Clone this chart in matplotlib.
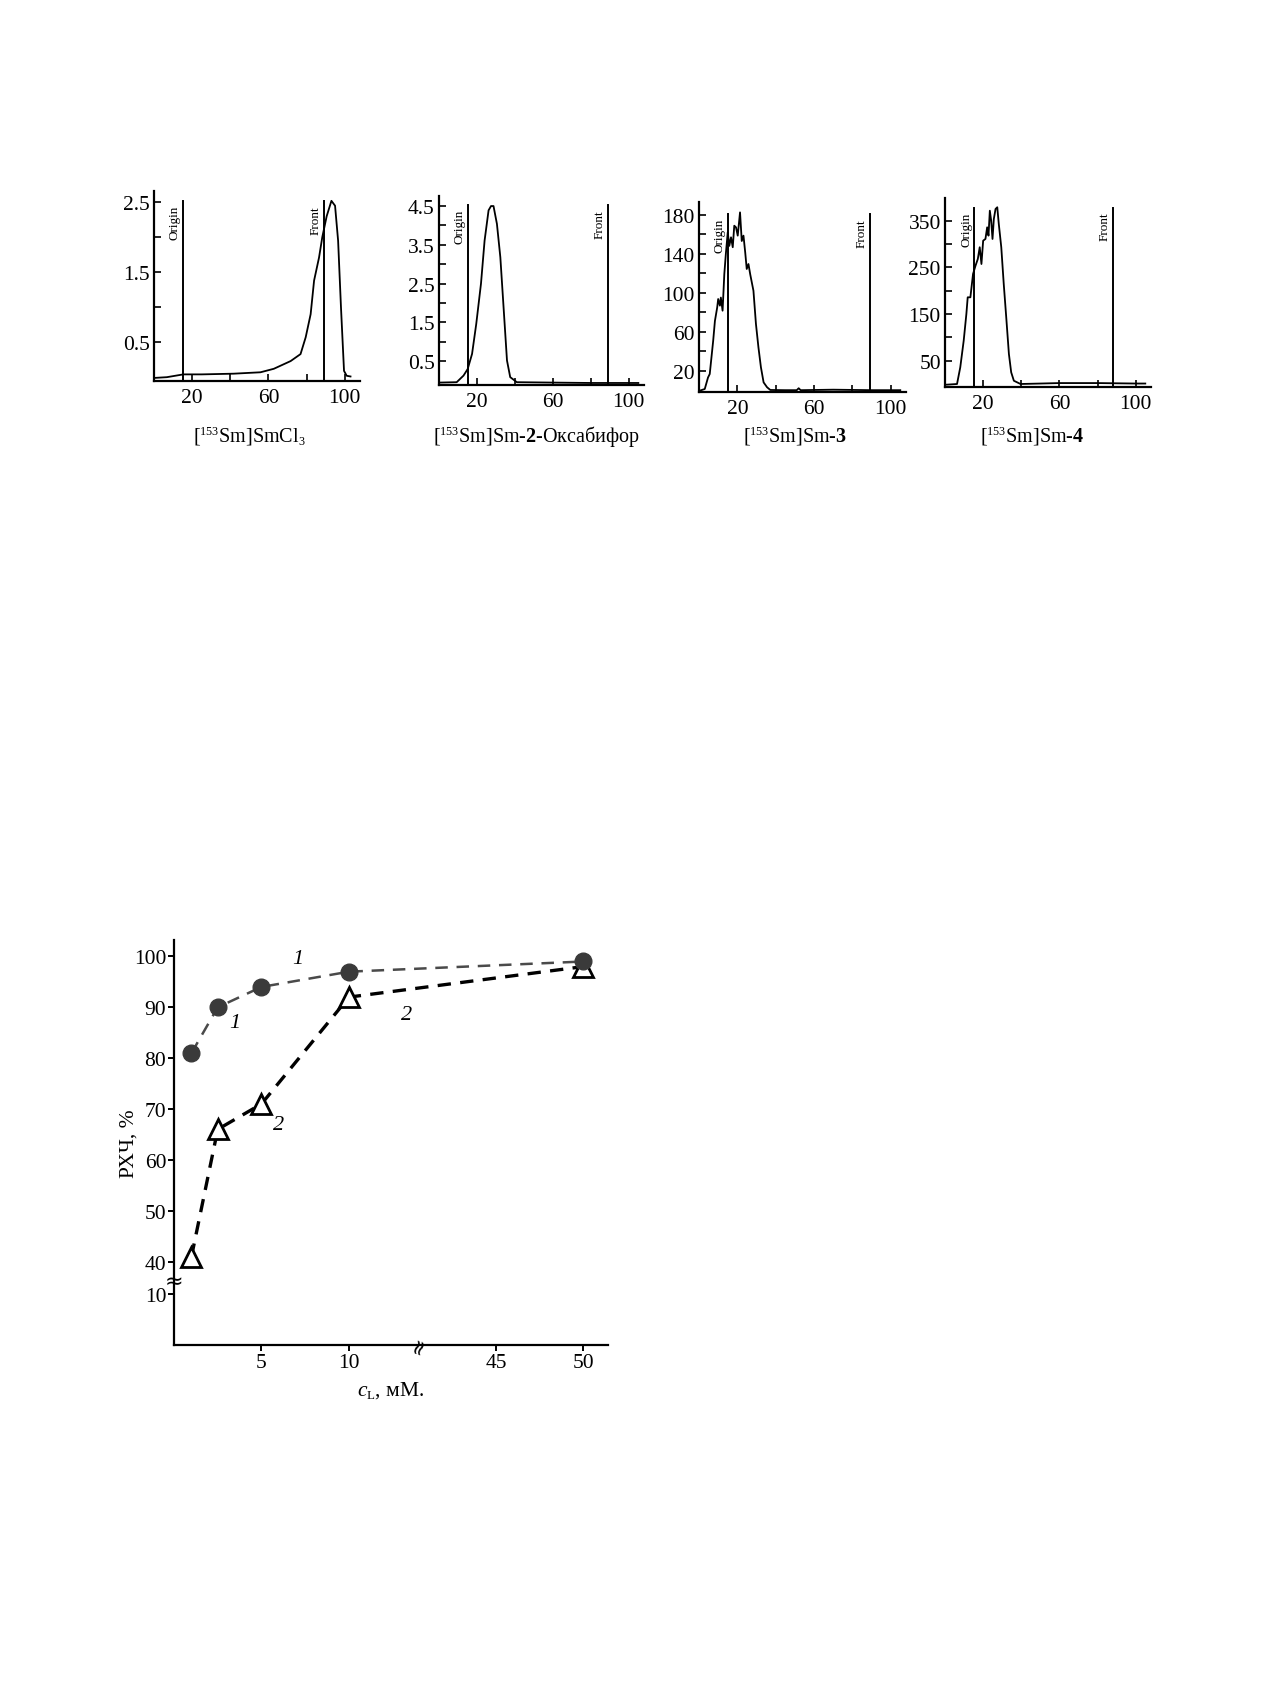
import numpy as np
import matplotlib
matplotlib.use('Agg')
import matplotlib.pyplot as plt
import matplotlib.transforms as mtransforms
import matplotlib._mathtext as _mt

# smaller super/subscripts, closer to the typeset original
_mt.SHRINK_FACTOR = 0.6

plt.rcParams['font.family'] = ['Liberation Serif', 'DejaVu Serif']
plt.rcParams['mathtext.fontset'] = 'custom'
plt.rcParams['mathtext.rm'] = 'Liberation Serif'
plt.rcParams['mathtext.it'] = 'Liberation Serif:italic'
plt.rcParams['mathtext.bf'] = 'Liberation Serif:bold'

# ---- radiochromatograms ----
x1 = [0.5, 6.7, 15.4, 25, 41.7, 55.8, 62.8, 71.6, 76.8, 79.5, 82.1, 83.9, 86.5,
      88.2, 90.5, 93.0, 94.9, 96.5, 98.0, 99.6, 101, 103]
y1 = [-0.01, 0.0, 0.04, 0.04, 0.05, 0.07, 0.12, 0.23, 0.33, 0.57, 0.9, 1.38, 1.71,
      2.0, 2.3, 2.52, 2.45, 1.95, 1.0, 0.09, 0.02, 0.01]

x2 = [0, 9.3, 12.9, 15.1, 17.4, 19.6, 22.1, 24.0, 26.1, 27.4, 28.7, 30.5, 32.3,
      34.0, 35.8, 37.5, 41, 60, 80, 105]
y2 = [-0.05, -0.04, 0.13, 0.3, 0.69, 1.46, 2.5, 3.61, 4.39, 4.5, 4.5, 4.04, 3.18,
      1.89, 0.52, 0.09, -0.04, -0.05, -0.06, -0.06]

x3 = [0.4, 3, 4.7, 5.6, 7.4, 8.3, 9.5, 10, 10.9, 11.4, 12.3, 13.2, 14, 15, 15.8,
      16.7, 17.6, 18.4, 19.3, 20.2, 21.4, 22.3, 23.2, 24.1, 24.9, 25.8, 26.7, 28.4,
      29.7, 31, 32.3, 33.7, 35.5, 37.2, 45, 51, 52, 53, 70, 90, 105]
y3 = [-0.5, 1.2, 13, 16.6, 50.8, 71, 85, 93.5, 86.7, 95, 81.5, 119, 139.7, 162, 148,
      156.8, 146.6, 168.7, 167, 158.5, 182.4, 153, 158.5, 141.4, 124.3, 129.4, 119, 102,
      68, 44, 23.5, 8, 3, 0.2, 0, 0, 2, 0, 0.5, 0, 0]

x4 = [1, 6.3, 8, 9.8, 11.2, 11.9, 13.3, 14.7, 16, 17.2, 18.2, 19.1, 20, 21.2, 22.1,
      22.8, 23.5, 24.2, 24.9, 25.6, 26.5, 27.4, 28.2, 29.5, 30.8, 32.1, 33.5, 34.7,
      36.1, 39.6, 50, 60, 80, 100, 105]
y4 = [-1.4, 0, 35.7, 92.8, 150, 185.7, 185.7, 235.7, 253.5, 267.8, 293, 257, 307,
      310.7, 335.7, 317.8, 371.3, 350, 310.7, 353.6, 375, 378.6, 342.8, 293, 214, 143,
      64.3, 25, 7, 0, 1, 2, 2, 1, 1]

chrom_x = [x1, x2, x3, x4]
chrom_y = [y1, y2, y3, y4]
captions = [r'[$^{153}$Sm]SmCl$_3$',
            r'[$^{153}$Sm]Sm-$\mathbf{2}$-Оксабифор',
            r'[$^{153}$Sm]Sm-$\mathbf{3}$',
            r'[$^{153}$Sm]Sm-$\mathbf{4}$']
ylims = [(-0.06, 2.66), (-0.11, 4.77), (-2.2, 192.7), (-7, 398.6)]
yticks = [np.arange(0.5, 2.51, 0.5), np.arange(0.5, 4.51, 0.5),
          np.arange(20, 181, 20), np.arange(50, 351, 50)]
yfmt = ['{:.1f}', '{:.1f}', '{:.0f}', '{:.0f}']
origin_x = [15, 15, 15, 15.4]
front_x = [89, 89, 89, 88]
marker_top = [2.52, 4.53, 181, 378]

xticks = [20, 40, 60, 80, 100]
xtick_labels = ['20', '', '60', '', '100']

# ---- RCP vs ligand concentration ----
conc = [1, 2.5, 5, 10, 50]
rcp1 = [81, 90, 94, 97, 99]
rcp2 = [41, 66, 71, 92, 98]

fig = plt.figure(figsize=(12.7, 16.83), dpi=100)

boxes = [[0.1213, 0.7728, 0.1622, 0.1131],
         [0.3457, 0.7707, 0.1614, 0.1125],
         [0.5504, 0.7663, 0.1630, 0.1129],
         [0.7441, 0.7693, 0.1622, 0.1125]]
caption_x = [0.196, 0.422, 0.626, 0.813]

for i in range(4):
    ax = fig.add_axes(boxes[i])
    ax.plot(chrom_x[i], chrom_y[i], color='black', lw=1.3)
    ax.set_xlim(0, 108)
    ax.set_ylim(*ylims[i])
    for sp in ['top', 'right']:
        ax.spines[sp].set_visible(False)
    for sp in ['left', 'bottom']:
        ax.spines[sp].set_linewidth(1.6)
    ax.set_xticks(xticks)
    ax.set_xticklabels(xtick_labels)
    ax.set_yticks(yticks[i])
    ax.set_yticklabels([yfmt[i].format(v) if k % 2 == 0 else ''
                        for k, v in enumerate(yticks[i])])
    ax.tick_params(direction='in', length=5, width=1.2, labelsize=15.5, pad=3)
    ax.tick_params(axis='x', pad=5)
    for xv, name in [(origin_x[i], 'Origin'), (front_x[i], 'Front')]:
        ax.plot([xv, xv], [ylims[i][0], marker_top[i]], color='black', lw=1.4)
        ax.annotate(name, (xv, marker_top[i]), xytext=(-1.5, -3),
                    textcoords='offset points', rotation=90, ha='right',
                    va='top', fontsize=9.5)
    fig.text(caption_x[i], 0.7405, captions[i], ha='center', va='center',
             fontsize=14.5)


def xfwd(v):
    return np.interp(v, [-100, 14, 41, 300], [-100, 14, 14.4, 273.4])


def xinv(p):
    return np.interp(p, [-100, 14, 14.4, 273.4], [-100, 14, 41, 300])


def yfwd(v):
    return np.interp(v, [-100, 10, 40, 300], [-76.4, 33.6, 40, 300])


def yinv(p):
    return np.interp(p, [-76.4, 33.6, 40, 300], [-100, 10, 40, 300])


ax = fig.add_axes([0.137, 0.2002, 0.3417, 0.2406])
ax.set_xscale('function', functions=(xfwd, xinv))
ax.set_yscale('function', functions=(yfwd, yinv))
ax.plot(conc, rcp1, color='#4a4a4a', lw=1.8, dashes=(5, 3.5), zorder=2)
ax.plot(conc, rcp1, 'o', color='#3a3a3a', ms=12, zorder=4)
ax.plot(conc, rcp2, color='black', lw=2.4, dashes=(4, 2.8), zorder=1)
ax.plot(conc, rcp2, '^', mfc='white', mec='black', mew=2, ms=14, zorder=3)
ax.set_xlim(0, 51.4)
ax.set_ylim(0, 103.2)
ax.set_xticks([5, 10, 45, 50])
ax.set_xticklabels(['5', '10', '45', '50'])
ax.set_yticks([10, 40, 50, 60, 70, 80, 90, 100])
ax.minorticks_off()
for sp in ['top', 'right']:
    ax.spines[sp].set_visible(False)
for sp in ['left', 'bottom']:
    ax.spines[sp].set_linewidth(1.6)
ax.tick_params(direction='out', length=4, width=1.4, labelsize=15.5, pad=1.5)
ax.set_ylabel('РХЧ, %', fontsize=15.5, labelpad=-3)
ax.set_xlabel(r'$c_\mathrm{L}$, мМ.', fontsize=15.5, labelpad=5)

for (xt, yt, s) in [(7.05, 99.5, '1'), (3.5, 87.1, '1'), (5.97, 66.9, '2'), (13.3, 88.6, '2')]:
    ax.text(xt, yt, s, style='italic', fontsize=16, ha='center', va='center')

# break marks
tr_y = mtransforms.blended_transform_factory(ax.transAxes, ax.transData)
ax.text(0.0, 22.5, '≈', transform=tr_y, ha='center', va='center',
        fontsize=16, family='DejaVu Sans')
tr_x = mtransforms.blended_transform_factory(ax.transData, ax.transAxes)
ax.text(14.1, 0.0, '≈', transform=tr_x, ha='center', va='center', rotation=70,
        fontsize=15, family='DejaVu Sans')

fig.savefig('out.png', dpi=100, facecolor='white')
